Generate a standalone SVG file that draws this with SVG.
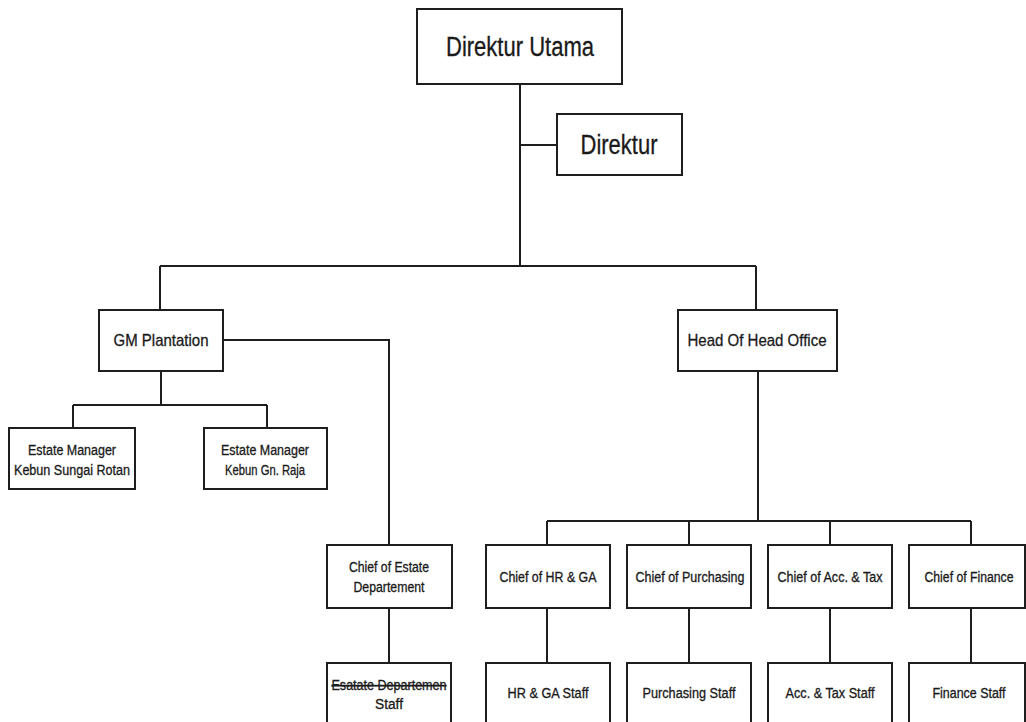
<svg xmlns="http://www.w3.org/2000/svg" width="1026" height="722" viewBox="0 0 1026 722">
<style>
.box{fill:#fff;stroke:#1e1e1e;stroke-width:2}
.ln{fill:none;stroke:#1e1e1e;stroke-width:2}
text{font-family:"Liberation Sans",Arial,sans-serif;fill:#1a1a1a;stroke:#1a1a1a;stroke-width:0.3;text-anchor:middle;dominant-baseline:central}
.big{font-size:27px}
.mid{font-size:17px}
.sm{font-size:14px}
</style>
<rect width="1026" height="722" fill="#fff"/>
<g id="connectors">
<path class="ln" d="M520 84V266M520 145H557M160 266H756M160 266V310M756 266V310"/>
<path class="ln" d="M161 371V405M73 405H267M73 405V428M267 405V428"/>
<path class="ln" d="M223 340H389V545M389 608V663"/>
<path class="ln" d="M758 371V521M547 521H971M547 521V545M689 521V545M830 521V545M971 521V545"/>
<path class="ln" d="M547 608V663M689 608V663M830 608V663M971 608V663"/>
</g>
<g id="direktur-utama"><rect class="box" x="417" y="9" width="205" height="75"/><text class="big" x="520" y="47" textLength="148" lengthAdjust="spacingAndGlyphs">Direktur Utama</text></g>
<g id="direktur"><rect class="box" x="557" y="114" width="125" height="61"/><text class="big" x="619" y="145" textLength="77" lengthAdjust="spacingAndGlyphs">Direktur</text></g>
<g id="gm-plantation"><rect class="box" x="99" y="310" width="124" height="61"/><text class="mid" x="161" y="340" textLength="95" lengthAdjust="spacingAndGlyphs">GM Plantation</text></g>
<g id="head-office"><rect class="box" x="678" y="310" width="159" height="61"/><text class="mid" x="757" y="340" textLength="139" lengthAdjust="spacingAndGlyphs">Head Of Head Office</text></g>
<g id="em-sungai-rotan"><rect class="box" x="9" y="428" width="126" height="61"/><text class="sm" x="72" y="450" textLength="88" lengthAdjust="spacingAndGlyphs">Estate Manager</text><text class="sm" x="72" y="470" textLength="116" lengthAdjust="spacingAndGlyphs">Kebun Sungai Rotan</text></g>
<g id="em-gn-raja"><rect class="box" x="204" y="428" width="123" height="61"/><text class="sm" x="265" y="450" textLength="88" lengthAdjust="spacingAndGlyphs">Estate Manager</text><text class="sm" x="265" y="470" textLength="80" lengthAdjust="spacingAndGlyphs">Kebun Gn. Raja</text></g>
<g id="chief-estate"><rect class="box" x="327" y="545" width="125" height="63"/><text class="sm" x="389" y="567" textLength="80" lengthAdjust="spacingAndGlyphs">Chief of Estate</text><text class="sm" x="389" y="587" textLength="71" lengthAdjust="spacingAndGlyphs">Departement</text></g>
<g id="chief-hr"><rect class="box" x="486" y="545" width="124" height="63"/><text class="sm" x="548" y="577" textLength="97" lengthAdjust="spacingAndGlyphs">Chief of HR &amp; GA</text></g>
<g id="chief-purchasing"><rect class="box" x="627" y="545" width="124" height="63"/><text class="sm" x="690" y="577" textLength="109" lengthAdjust="spacingAndGlyphs">Chief of Purchasing</text></g>
<g id="chief-acc"><rect class="box" x="768" y="545" width="124" height="63"/><text class="sm" x="830" y="577" textLength="105" lengthAdjust="spacingAndGlyphs">Chief of Acc. &amp; Tax</text></g>
<g id="chief-finance"><rect class="box" x="909" y="545" width="116" height="63"/><text class="sm" x="969" y="577" textLength="89" lengthAdjust="spacingAndGlyphs">Chief of Finance</text></g>
<g id="estate-staff"><rect class="box" x="327" y="663" width="124" height="70"/><text class="sm" x="389" y="685" textLength="115" lengthAdjust="spacingAndGlyphs" text-decoration="line-through">Esatate Departemen</text><text class="sm" x="389" y="704" textLength="28" lengthAdjust="spacingAndGlyphs">Staff</text></g>
<g id="hr-staff"><rect class="box" x="486" y="663" width="124" height="70"/><text class="sm" x="548" y="693" textLength="81" lengthAdjust="spacingAndGlyphs">HR &amp; GA Staff</text></g>
<g id="purchasing-staff"><rect class="box" x="627" y="663" width="124" height="70"/><text class="sm" x="689" y="693" textLength="93" lengthAdjust="spacingAndGlyphs">Purchasing Staff</text></g>
<g id="acc-staff"><rect class="box" x="768" y="663" width="124" height="70"/><text class="sm" x="830" y="693" textLength="89" lengthAdjust="spacingAndGlyphs">Acc. &amp; Tax Staff</text></g>
<g id="finance-staff"><rect class="box" x="909" y="663" width="116" height="70"/><text class="sm" x="969" y="693" textLength="73" lengthAdjust="spacingAndGlyphs">Finance Staff</text></g>
</svg>
